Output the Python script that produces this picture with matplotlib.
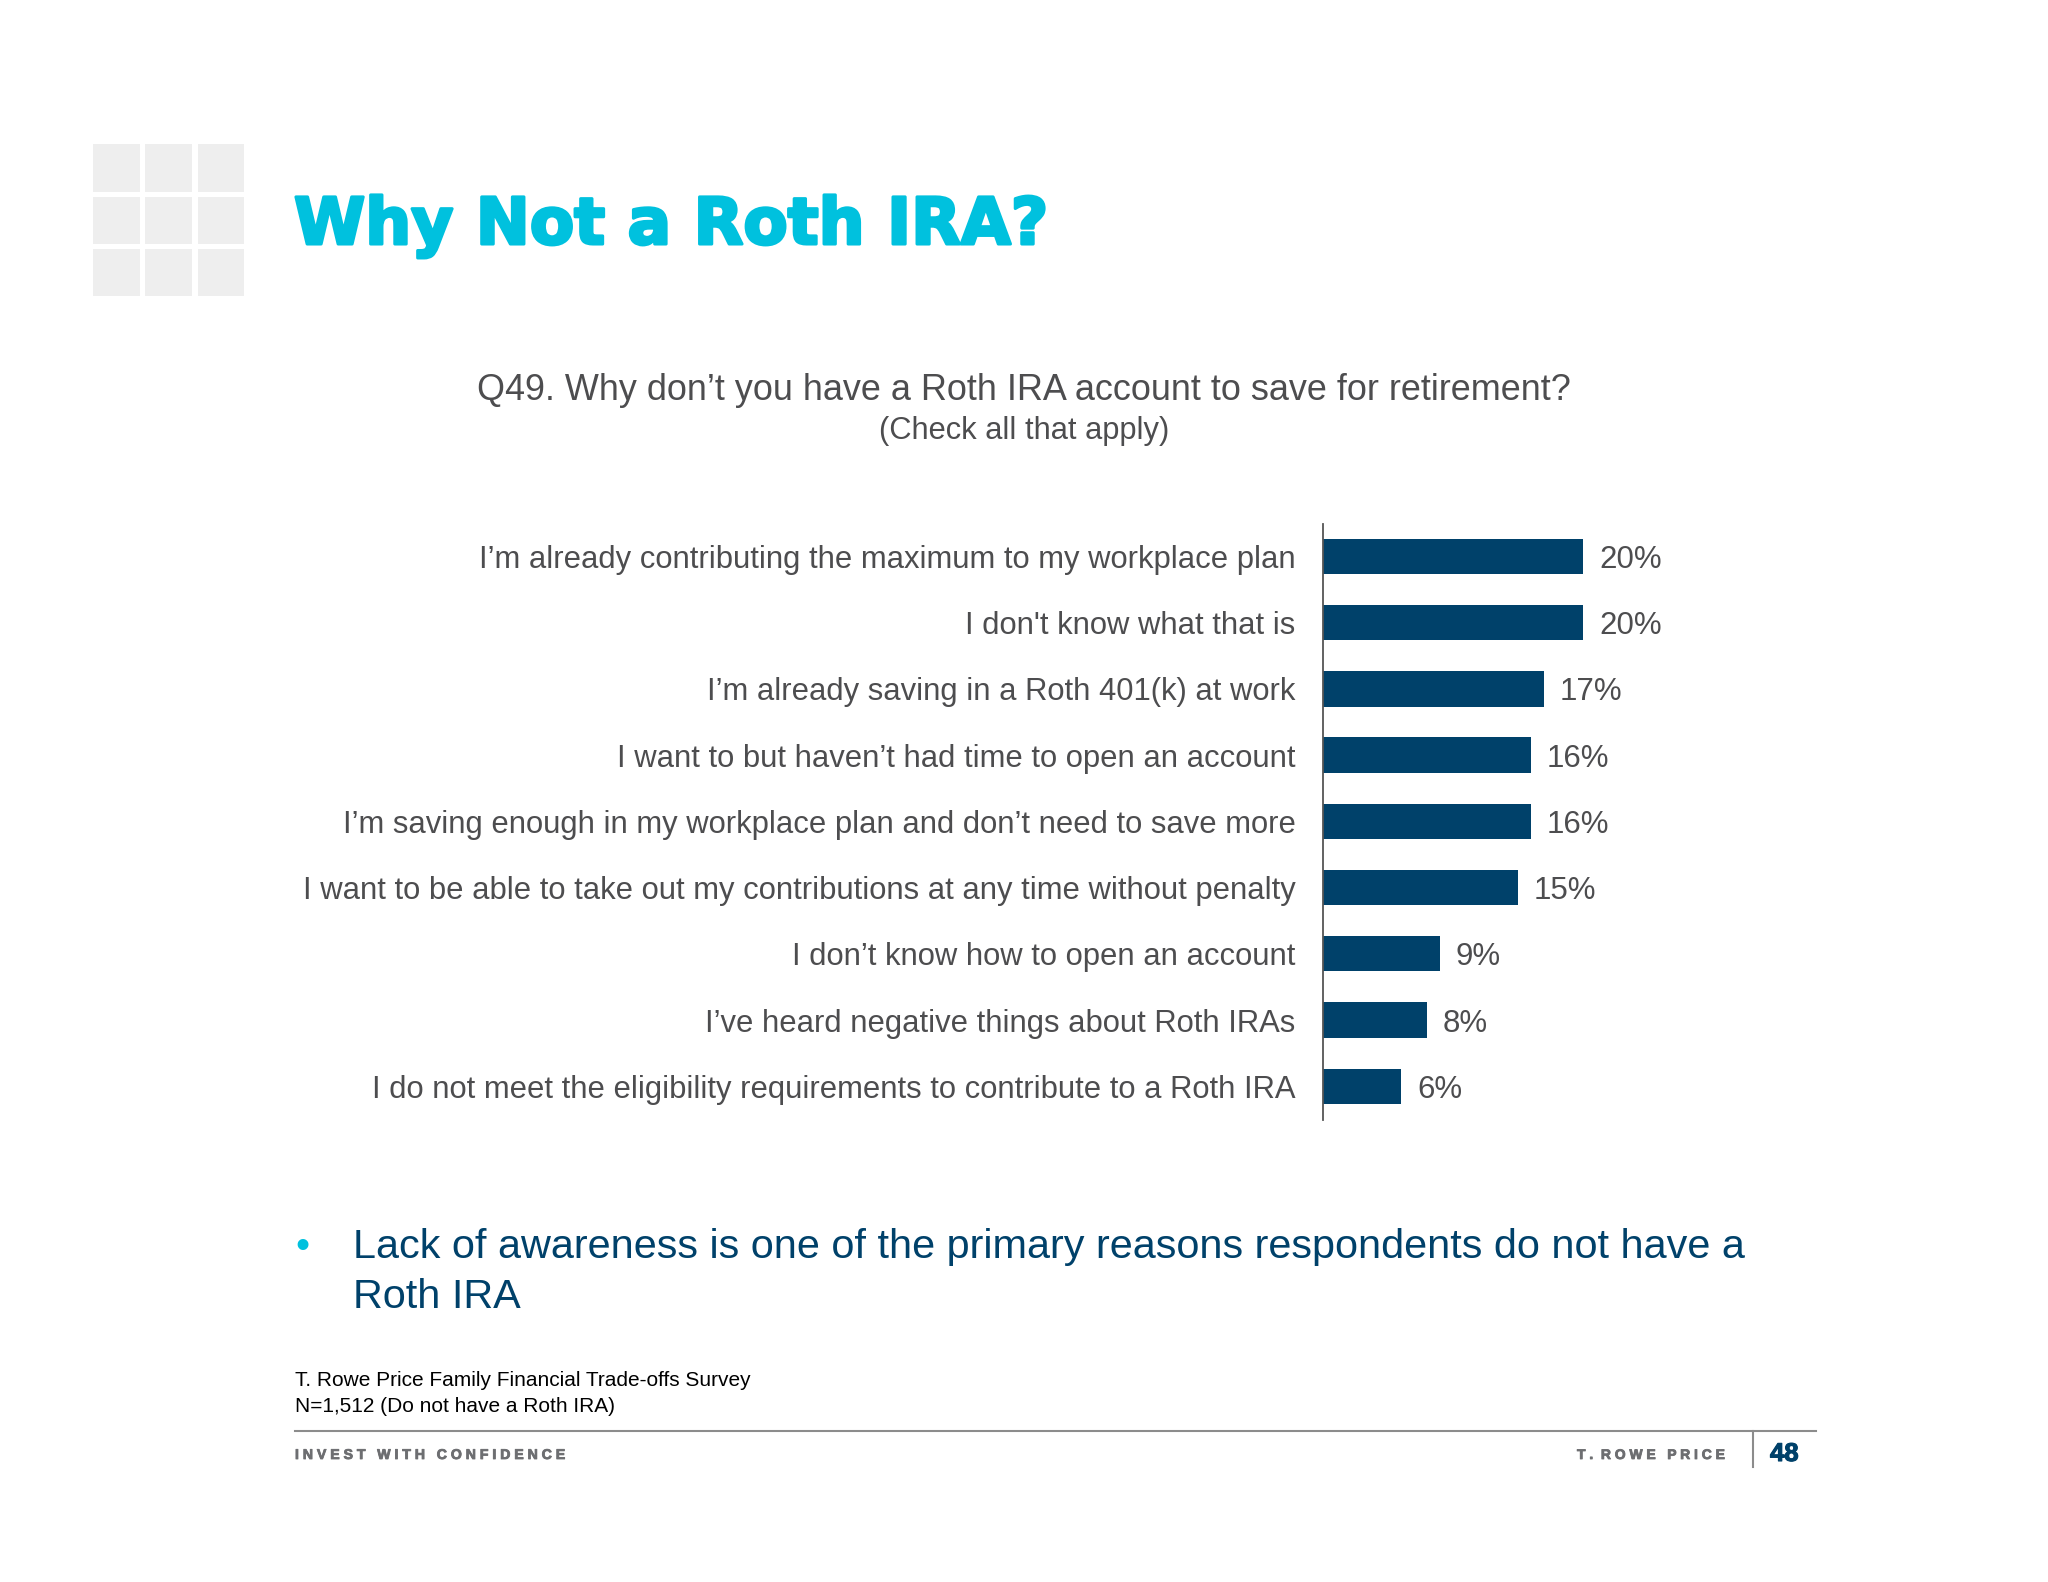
import matplotlib
matplotlib.use("Agg")
import matplotlib.pyplot as plt
import matplotlib.patheffects as pe
from matplotlib.patches import Rectangle

plt.rcParams["font.family"] = ["Liberation Sans", "DejaVu Sans"]

# Chart data
reasons = [
    "I\u2019m already contributing the maximum to my workplace plan",
    "I don't know what that is",
    "I\u2019m already saving in a Roth 401(k) at work",
    "I want to but haven\u2019t had time to open an account",
    "I\u2019m saving enough in my workplace plan and don\u2019t need to save more",
    "I want to be able to take out my contributions at any time without penalty",
    "I don\u2019t know how to open an account",
    "I\u2019ve heard negative things about Roth IRAs",
    "I do not meet the eligibility requirements to contribute to a Roth IRA",
]
shares = [20, 20, 17, 16, 16, 15, 9, 8, 6]

title = "Why Not a Roth IRA?"
question = "Q49. Why don\u2019t you have a Roth IRA account to save for retirement?"
question_note = "(Check all that apply)"
takeaway = ["Lack of awareness is one of the primary reasons respondents do not have a", "Roth IRA"]
source = ["T. Rowe Price Family Financial Trade-offs Survey", "N=1,512 (Do not have a Roth IRA)"]

NAVY = "#00416a"
CYAN = "#00c1de"
TEXT = "#4d4d4f"
W, H = 2048, 1582

fig = plt.figure(figsize=(W / 100, H / 100), dpi=100, facecolor="white")

# Page layer in pixel coordinates for the slide furniture
page = fig.add_axes([0, 0, 1, 1])
page.set_xlim(0, W)
page.set_ylim(H, 0)
page.axis("off")

# Decorative grey squares
for x0, x1 in [(92.5, 139.5), (145, 192), (198, 244)]:
    for y0, y1 in [(144, 192), (197, 244), (249, 296)]:
        page.add_patch(Rectangle((x0, y0), x1 - x0, y1 - y0, color="#eeeeee", lw=0))

page.text(294, 244, title, color=CYAN, fontsize=46.5, fontweight="bold", va="baseline",
          family=["DejaVu Sans"], path_effects=[pe.withStroke(linewidth=2.2, foreground=CYAN)])

page.text(1024, 400, question, color=TEXT, fontsize=25.9, ha="center", va="baseline")
page.text(1024, 439, question_note, color=TEXT, fontsize=22.2, ha="center", va="baseline")

# Bullet and takeaway
page.text(302, 1258, "\u2022", color=CYAN, fontsize=29, ha="center", va="baseline")
page.text(353, 1258, takeaway[0], color=NAVY, fontsize=29.8, va="baseline")
page.text(353, 1308, takeaway[1], color=NAVY, fontsize=29.8, va="baseline")

# Source note
page.text(295, 1386, source[0], color="black", fontsize=15, va="baseline")
page.text(295, 1412, source[1], color="black", fontsize=15, va="baseline")

# Footer
page.plot([295, 1816], [1431, 1431], color="#8c8c8c", lw=1.5)
page.plot([1753, 1753], [1431, 1467], color="#8c8c8c", lw=1.5)
footer_fx = [pe.withStroke(linewidth=0.6, foreground="#6d6e71")]
page.text(295, 1459, "I N V E S T   W I T H   C O N F I D E N C E", color="#6d6e71",
          fontsize=10.15, fontweight="bold", va="baseline", path_effects=footer_fx)
page.text(1577, 1459, "T .  R O W E   P R I C E", color="#6d6e71",
          fontsize=10, fontweight="bold", va="baseline", path_effects=footer_fx)
page.text(1770, 1461, "48", color=NAVY, fontsize=18.5, fontweight="bold", va="baseline",
          path_effects=[pe.withStroke(linewidth=0.8, foreground=NAVY)])

# Bar chart, placed so that 1% = 13 px and rows are 66.2 px apart
ax_left, ax_right, ax_top, ax_bottom = 1322.5, 1780, 524, 1120
ax = fig.add_axes([ax_left / W, 1 - ax_bottom / H, (ax_right - ax_left) / W, (ax_bottom - ax_top) / H])
ax.patch.set_alpha(0)
rows = list(range(len(reasons)))
ax.barh(rows, shares, height=0.535, color=NAVY)
ax.set_xlim(0, (ax_right - ax_left) / 13)
ax.set_ylim(8.51, -0.49)
ax.set_yticks(rows)
ax.set_yticklabels(reasons, fontsize=22.3, color=TEXT)
ax.tick_params(axis="y", length=0, pad=19.5)
ax.set_xticks([])
for side in ["top", "right", "bottom"]:
    ax.spines[side].set_visible(False)
ax.spines["left"].set_color("#555555")
ax.spines["left"].set_linewidth(1.3)

for row, share in zip(rows, shares):
    ax.annotate(f"{share}%", xy=(share, row), xytext=(11.8, 0), textcoords="offset points",
                va="center_baseline", ha="left", fontsize=22.5, color=TEXT)

fig.savefig("out.png", dpi=100)
